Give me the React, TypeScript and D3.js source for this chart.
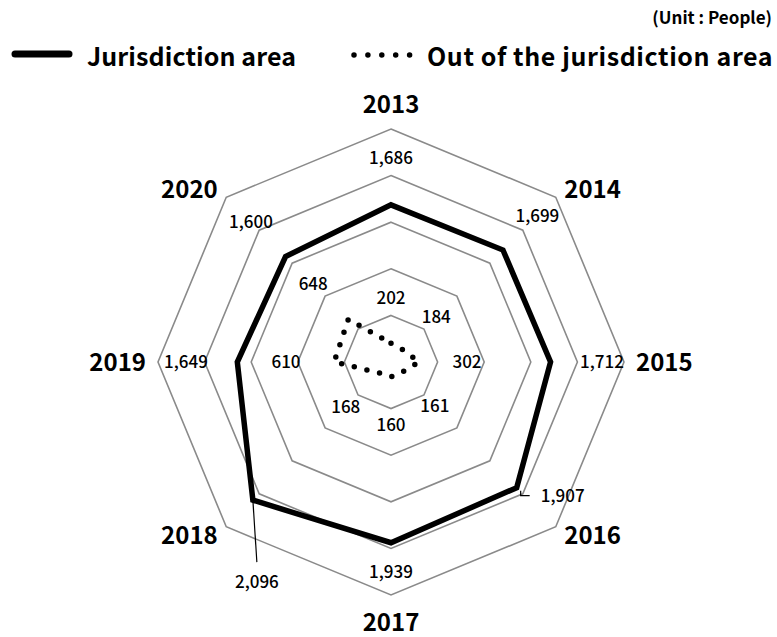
import React, { useEffect, useRef } from "react";
import * as d3 from "d3";

const years = ["2013", "2014", "2015", "2016", "2017", "2018", "2019", "2020"];
const jurisdiction = [1686, 1699, 1712, 1907, 1939, 2096, 1649, 1600];
const outside = [202, 184, 302, 161, 160, 168, 610, 648];
const ringTicks = [500, 1000, 1500, 2000, 2500];

const FONT = "'Noto Sans CJK KR', 'Noto Sans', sans-serif";

const App: React.FC = () => {
  const svgRef = useRef<SVGSVGElement>(null);

  useEffect(() => {
    const svg = d3.select(svgRef.current);
    svg.selectAll("*").remove();

    const cx = 391;
    const cy = 362;
    const n = years.length;
    const angle = (i: number) => (i * 2 * Math.PI) / n;
    const r = d3.scaleLinear().domain([0, 2500]).range([0, 233]);
    const pos = (i: number, rad: number): [number, number] => [
      cx + rad * Math.sin(angle(i)),
      cy - rad * Math.cos(angle(i)),
    ];

    const g = svg.append("g").attr("transform", `translate(${cx},${cy})`);

    const radial = d3
      .lineRadial<number>()
      .angle((_, i) => angle(i))
      .radius((d) => r(d))
      .curve(d3.curveLinearClosed);

    // grid octagons
    ringTicks.forEach((t) => {
      g.append("path")
        .attr("d", radial(years.map(() => t)))
        .attr("fill", "none")
        .attr("stroke", "#8a8a8a")
        .attr("stroke-width", 1.6);
    });

    // series
    g.append("path")
      .attr("d", radial(jurisdiction))
      .attr("fill", "none")
      .attr("stroke", "#000")
      .attr("stroke-width", 5.5)
      .attr("stroke-linejoin", "miter");

    g.append("path")
      .attr("d", radial(outside))
      .attr("fill", "none")
      .attr("stroke", "#000")
      .attr("stroke-width", 5.5)
      .attr("stroke-linecap", "round")
      .attr("stroke-dasharray", "0,13");

    // category labels
    years.forEach((y, i) => {
      const [x0, y0] = pos(i, 245);
      const s = Math.sin(angle(i));
      const c = Math.cos(angle(i));
      const anchor = Math.abs(s) < 0.01 ? "middle" : s > 0 ? "start" : "end";
      const dy = c > 0.9 ? -4 : c < -0.9 ? 24 : 9;
      svg
        .append("text")
        .attr("x", x0)
        .attr("y", y0 + dy)
        .attr("text-anchor", anchor)
        .attr("font-family", FONT)
        .attr("font-weight", 700)
        .attr("font-size", 24)
        .text(y);
    });

    const fmt = d3.format(",");
    const label = (x: number, y: number, t: string) =>
      svg
        .append("text")
        .attr("x", x)
        .attr("y", y)
        .attr("dy", "0.35em")
        .attr("text-anchor", "middle")
        .attr("font-family", FONT)
        .attr("font-weight", 500)
        .attr("font-size", 17)
        .text(t);

    // outer series labels (distance from centre per direction)
    const outerLabelR = [204, 207, 211, 0, 210, 0, 205, 198];
    jurisdiction.forEach((v, i) => {
      const [px, py] = pos(i, r(v));
      if (years[i] === "2016") {
        const lx = px + 46;
        const ly = py + 8;
        svg
          .append("path")
          .attr("d", `M${px + 4},${py + 3}V${ly}H${lx - 33}`)
          .attr("fill", "none")
          .attr("stroke", "#000")
          .attr("stroke-width", 1.2);
        label(lx, ly, fmt(v));
      } else if (years[i] === "2018") {
        const lx = px + 4;
        const ly = py + 82;
        svg
          .append("line")
          .attr("x1", px)
          .attr("y1", py)
          .attr("x2", lx)
          .attr("y2", ly - 20)
          .attr("stroke", "#000")
          .attr("stroke-width", 1.2);
        label(lx, ly, fmt(v));
      } else {
        const [lx, ly] = pos(i, outerLabelR[i]);
        label(lx, ly, fmt(v));
      }
    });

    // inner series labels
    const innerLabelR = [64, 64, 76, 62, 63, 64, 105, 110];
    outside.forEach((v, i) => {
      const [lx, ly] = pos(i, innerLabelR[i]);
      label(lx, ly, fmt(v));
    });

    // unit
    svg
      .append("text")
      .attr("x", 772)
      .attr("y", 24)
      .attr("text-anchor", "end")
      .attr("font-family", FONT)
      .attr("font-weight", 700)
      .attr("font-size", 17)
      .text("(Unit : People)");

    // legend
    const lg = svg.append("g");
    lg.append("line")
      .attr("x1", 15)
      .attr("x2", 69)
      .attr("y1", 54)
      .attr("y2", 54)
      .attr("stroke", "#000")
      .attr("stroke-width", 7)
      .attr("stroke-linecap", "round");
    lg.append("text")
      .attr("x", 87)
      .attr("y", 66)
      .attr("font-family", FONT)
      .attr("font-weight", 700)
      .attr("font-size", 25)
      .attr("letter-spacing", 0.1)
      .text("Jurisdiction area");
    lg.append("line")
      .attr("x1", 354)
      .attr("x2", 410)
      .attr("y1", 55)
      .attr("y2", 55)
      .attr("stroke", "#000")
      .attr("stroke-width", 5.5)
      .attr("stroke-linecap", "round")
      .attr("stroke-dasharray", "0,13.9");
    lg.append("text")
      .attr("x", 427)
      .attr("y", 66)
      .attr("font-family", FONT)
      .attr("font-weight", 700)
      .attr("font-size", 25)
      .attr("letter-spacing", 0.6)
      .text("Out of the jurisdiction area");
  }, []);

  return (
    <svg
      ref={svgRef}
      width={777}
      height={637}
      style={{ position: "absolute", left: 0, top: 0, background: "#fff" }}
    />
  );
};

export default App;
